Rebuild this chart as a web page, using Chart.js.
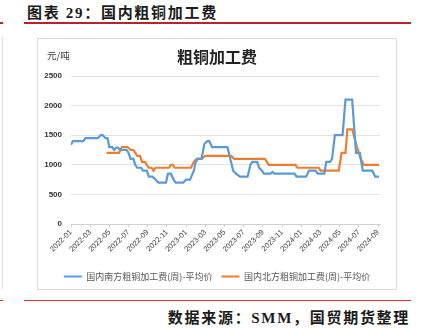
<!DOCTYPE html>
<html>
<head>
<meta charset="utf-8">
<script src="https://cdn.jsdelivr.net/npm/chart.js@4/dist/chart.umd.min.js"></script>
<style>
  html, body { margin: 0; padding: 0; background: #fff; }
  body { width: 421px; height: 328px; position: relative; overflow: hidden; font-family: "Liberation Serif", "Noto Sans CJK SC", serif; }
  .abs { position: absolute; }
  #title { left: 27px; top: 1px; font-size: 15px; font-weight: bold; color: #1a1a1a; letter-spacing: 1.7px; white-space: nowrap; }
  #topRule { left: 24px; top: 22px; width: 387px; height: 2px; background: #b3262b; }
  #box { left: 37px; top: 38px; width: 358px; height: 250px; border: 1px solid #dcdcdc; }
  #unit { left: 47px; top: 48px; font-family: "Noto Sans CJK SC", sans-serif; font-size: 9.5px; color: #404040; }
  #chartTitle { left: 38px; width: 358px; top: 44px; text-align: center; font-family: "Noto Sans CJK SC", sans-serif; font-size: 16px; font-weight: bold; color: #222; }
  #wrap { left: 38px; top: 39px; width: 358px; height: 252px; }
  #botRule { left: 24px; top: 300px; width: 387px; height: 1px; background: #cc3333; }
  #source { right: 11px; top: 306px; font-size: 15px; font-weight: bold; color: #1a1a1a; letter-spacing: 1.7px; white-space: nowrap; }
  #edgeA { left: 0; top: 22px; width: 3px; height: 2px; background: #b3262b; }
  #edgeB { left: 2px; top: 37px; width: 1px; height: 252px; background: #e0e0e0; }
  #edgeC { left: 0; top: 300px; width: 3px; height: 1px; background: #cc3333; }
</style>
</head>
<body>
<div class="abs" id="title">图表 29：国内粗铜加工费</div>
<div class="abs" id="topRule"></div>
<div class="abs" id="edgeA"></div>
<div class="abs" id="edgeB"></div>
<div class="abs" id="edgeC"></div>
<div class="abs" id="box"></div>
<div class="abs" id="wrap"><canvas id="chart"></canvas></div>
<div class="abs" id="unit">元/吨</div>
<div class="abs" id="chartTitle">粗铜加工费</div>
<div class="abs" id="botRule"></div>
<div class="abs" id="source">数据来源：SMM，国贸期货整理</div>
<script>
// x positions are months counted from 2022-01
const tickLabels = ['2022-01', '2022-03', '2022-05', '2022-07', '2022-09', '2022-11',
    '2023-01', '2023-03', '2023-05', '2023-07', '2023-09', '2023-11',
    '2024-01', '2024-03', '2024-05', '2024-07', '2024-09'];

const southMonths = [0, 0.2, 1.3, 1.5, 2.8, 3.1, 3.3, 3.6, 3.8, 4.0, 4.3, 4.5, 4.7, 4.9, 5.1, 5.8,
    6.0, 6.2, 6.5, 6.7, 6.9, 7.3, 7.5, 7.9, 8.1, 8.5, 8.8, 9.1, 9.9, 10.1, 10.4, 10.7, 10.9, 11.7,
    12.0, 12.4, 12.8, 13.0, 13.2, 13.6, 13.9, 14.2, 14.4, 14.7, 16.3, 16.6, 16.9, 17.2, 17.6, 18.4,
    18.7, 18.9, 19.4, 19.6, 19.9, 20.1, 20.8, 21.0, 21.2, 23.3, 23.5, 24.5, 24.8, 25.5, 25.7, 26.4,
    26.6, 27.0, 27.2, 27.5, 28.3, 28.6, 29.3, 29.7, 30.1, 30.4, 31.4, 31.7, 32.1];
const southFee = [1340, 1400, 1400, 1450, 1450, 1500, 1500, 1450, 1450, 1300, 1300, 1250, 1290, 1290, 1250, 1250,
    1200, 1100, 1100, 1000, 950, 950, 900, 900, 800, 800, 750, 700, 700, 850, 850, 750, 700, 700,
    750, 750, 900, 1050, 1100, 1100, 1350, 1400, 1400, 1300, 1300, 1100, 900, 850, 800, 800,
    1000, 1050, 1050, 950, 900, 850, 850, 880, 850, 850, 800, 800, 900, 900, 850, 850,
    1050, 1050, 1100, 1500, 1500, 2100, 2100, 1200, 1200, 900, 900, 800, 800];

const northMonths = [3.7, 5.0, 5.3, 5.9, 6.2, 6.5, 6.7, 6.9, 7.2, 7.4, 7.7, 7.9, 8.1, 8.4, 8.6, 8.8,
    10.2, 10.4, 10.6, 10.8, 12.5, 12.8, 13.1, 13.6, 14.0, 16.7, 17.0, 20.2, 20.6, 23.4, 23.6, 25.8,
    26.0, 27.9, 28.2, 28.6, 28.8, 29.3, 29.8, 30.2, 30.5, 32.1];
const northFee = [1200, 1200, 1300, 1300, 1250, 1250, 1200, 1150, 1150, 1050, 1050, 1000, 950, 950, 900, 950,
    950, 1000, 1000, 950, 950, 1050, 1100, 1100, 1150, 1150, 1100, 1100, 1000, 1000, 950, 950,
    900, 900, 1200, 1200, 1600, 1600, 1300, 1100, 1000, 1000];

const toPoints = (xs, ys) => xs.map((x, i) => ({ x: x, y: ys[i] }));

new Chart(document.getElementById('chart'), {
    type: 'line',
    data: {
        datasets: [{
            label: '国内南方粗铜加工费(周)-平均价',
            data: toPoints(southMonths, southFee),
            borderColor: '#5b9bd5',
            backgroundColor: '#5b9bd5',
            borderWidth: 2.2,
            pointRadius: 0,
            tension: 0
        }, {
            label: '国内北方粗铜加工费(周)-平均价',
            data: toPoints(northMonths, northFee),
            borderColor: '#ed7d31',
            backgroundColor: '#ed7d31',
            borderWidth: 2.2,
            pointRadius: 0,
            tension: 0
        }]
    },
    options: {
        responsive: true,
        maintainAspectRatio: false,
        animation: false,
        layout: { padding: { top: 37, left: 0, right: 0, bottom: 0 } },
        plugins: {
            title: { display: false },
            tooltip: { enabled: false },
            legend: {
                position: 'bottom',
                labels: {
                    boxWidth: 18,
                    boxHeight: 2,
                    padding: 9,
                    color: '#595959',
                    font: { family: '"Noto Sans CJK SC", sans-serif', size: 9 },
                    generateLabels: (chart) => Chart.defaults.plugins.legend.labels.generateLabels(chart)
                        .map(l => Object.assign(l, { lineWidth: 0 }))
                }
            }
        },
        scales: {
            x: {
                type: 'linear',
                min: 0,
                max: 32.2,
                afterBuildTicks: (s) => { s.ticks = tickLabels.map((_, i) => ({ value: i * 2 })); },
                afterFit: (s) => { s.height = 39; },
                grid: { drawOnChartArea: false, drawTicks: true, tickLength: 3, color: '#d0d0d0' },
                border: { color: '#d0d0d0' },
                ticks: {
                    autoSkip: false,
                    maxRotation: 45,
                    minRotation: 45,
                    padding: 1,
                    color: '#404040',
                    font: { family: '"Liberation Sans", Arial, sans-serif', size: 7.5 },
                    callback: (v) => tickLabels[Math.round(v / 2)]
                }
            },
            y: {
                min: 0,
                max: 2500,
                afterFit: (s) => { s.width = 33; },
                grid: { color: '#e3e3e3', drawTicks: false },
                border: { display: false },
                ticks: {
                    stepSize: 500,
                    padding: 9,
                    color: '#333',
                    font: { family: '"Liberation Sans", Arial, sans-serif', size: 8, weight: 'bold' },
                    callback: (v) => String(v)
                }
            },
            // empty right-hand axis: keeps 16px of room right of the plot
            yRight: {
                position: 'right',
                min: 0,
                max: 2500,
                afterFit: (s) => { s.width = 16; },
                grid: { display: false },
                border: { display: false },
                ticks: { display: false }
            }
        }
    }
});
</script>
</body>
</html>
